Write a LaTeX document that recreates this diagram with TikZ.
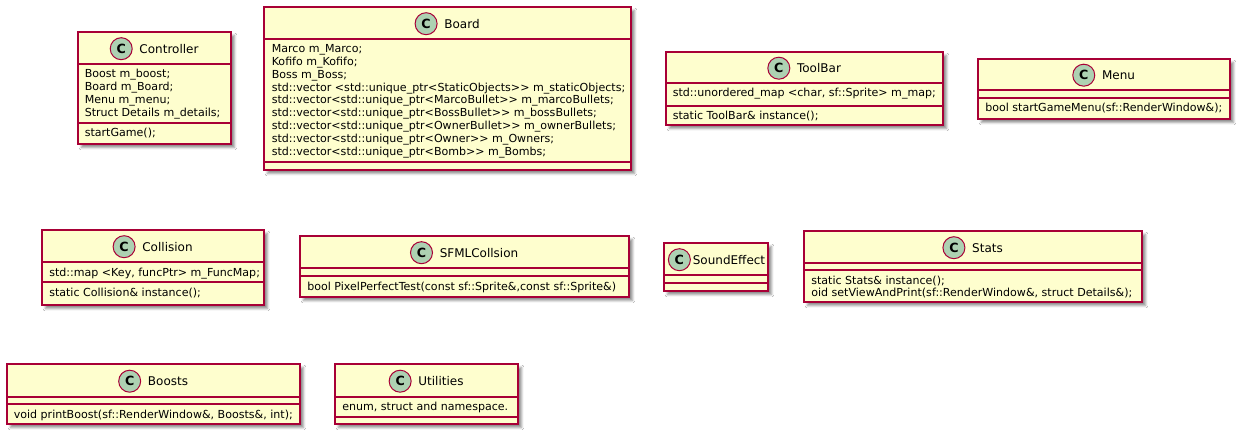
\documentclass[tikz,border=0pt]{standalone}
\usepackage{fontspec}
\setmainfont{DejaVu Sans}
\usetikzlibrary{shadows.blur}
\definecolor{umlfill}{HTML}{FEFECE}
\definecolor{umlred}{HTML}{A80036}
\definecolor{umlcirc}{HTML}{ADD1B2}
\tikzset{
  classbox/.style={draw=umlred, fill=umlfill, line width=1.125pt, anchor=north west,
    inner sep=0pt, outer sep=0pt,
    blur shadow={shadow xshift=2.6pt, shadow yshift=-2.6pt, shadow blur radius=1.8pt, shadow opacity=45}},
  divline/.style={draw=umlred, line width=1.125pt},
  classname/.style={font=\fontsize{9}{11}\selectfont, inner sep=0pt, text height=6.6pt, text depth=0pt, anchor=center},
  classcirc/.style={circle, draw=umlred, line width=0.75pt, fill=umlcirc, minimum size=16.5pt,
    inner sep=0pt, font=\fontsize{9.5}{11}\selectfont\bfseries},
  member/.style={font=\fontsize{8.3}{9.6}\selectfont, inner sep=0pt, anchor=base west},
}
\def\nameoff{14.5}
\def\circoff{13.5pt}
% #1 id, #2 title, #3 x1, #4 y1, #5 x2, #6 y2, #7 header line y, #8 divider y
\newcommand\umlclass[8]{%
  \node[classbox, minimum width={(#5-#3)*0.75pt}, minimum height={(#6-#4)*0.75pt}] (#1) at (#3,#4) {};
  \draw[divline] (#1.west |- 0,#7) -- (#1.east |- 0,#7);
  \draw[divline] (#1.west |- 0,#8) -- (#1.east |- 0,#8);
  \node[classname] (#1-name) at ({(#3+#5)/2+\nameoff},{(#4+#7)/2+0.7}) {#2};
  \node[classcirc] (#1-circ) at ([xshift=-\circoff]#1-name.west) {C};
}
% #1 prefix, #2 x, #3 first baseline, #4 list
\newcommand\members[4]{%
  \foreach \txt [count=\i from 0] in {#4} {\node[member] (#1\i) at (#2, {#3+12.8*\i}) {\txt};}%
}
\begin{document}
\begin{tikzpicture}[x=0.75pt,y=-0.75pt]
\useasboundingbox (0,0) rectangle (1248,442);
\fill[white] (0,0) rectangle (1248,442);

% Controller
\umlclass{ctrl}{Controller}{78}{32}{231}{144}{64}{123}
\members{ctrl-a}{84.5}{78}{{Boost m\_boost;},{Board m\_Board;},{Menu m\_menu;},{Struct Details m\_details;}}
\members{ctrl-m}{84.5}{137}{{startGame();}}

% Board
\umlclass{board}{Board}{264}{7}{631}{170}{39}{162}
\members{board-a}{271.5}{52.7}{{Marco m\_Marco;},{Kofifo m\_Kofifo;},{Boss m\_Boss;},
  {std::vector <std::unique\_ptr<StaticObjects>{}> m\_staticObjects;},
  {std::vector<std::unique\_ptr<MarcoBullet>{}> m\_marcoBullets;},
  {std::vector<std::unique\_ptr<BossBullet>{}> m\_bossBullets;},
  {std::vector<std::unique\_ptr<OwnerBullet>{}> m\_ownerBullets;},
  {std::vector<std::unique\_ptr<Owner>{}> m\_Owners;},
  {std::vector<std::unique\_ptr<Bomb>{}> m\_Bombs;}}

% ToolBar
\umlclass{toolbar}{ToolBar}{666}{52}{943}{125}{83}{106}
\members{toolbar-a}{672.5}{96.8}{{std::unordered\_map <char, sf::Sprite> m\_map;}}
\members{toolbar-m}{672.5}{119.8}{{static ToolBar\& instance();}}

% Menu
\umlclass{menu}{Menu}{978}{59}{1230}{119}{90}{98}
\members{menu-m}{985}{111.8}{{bool startGameMenu(sf::RenderWindow\&);}}

% Collision
\umlclass{collision}{Collision}{42}{230}{264}{305}{262}{282}
\members{collision-a}{49}{276.2}{{std::map <Key, funcPtr> m\_FuncMap;}}
\members{collision-m}{49}{296.2}{{static Collision\& instance();}}

% SFMLCollsion
\umlclass{sfml}{SFMLCollsion}{300}{236}{629}{297}{268}{276}
\members{sfml-m}{307}{290}{{bool PixelPerfectTest(const sf::Sprite\&,const sf::Sprite\&)}}

% SoundEffect (narrow box: tighter header)
\def\nameoff{13}\def\circoff{9.9pt}
\umlclass{sound}{SoundEffect}{664}{243}{768}{291}{275}{283}
\def\nameoff{14.5}\def\circoff{13.5pt}

% Stats
\umlclass{stats}{Stats}{804}{231}{1142}{302}{263}{270}
\members{stats-m}{811}{284}{{static Stats\& instance();},{oid setViewAndPrint(sf::RenderWindow\&, struct Details\&);}}

% Boosts
\umlclass{boosts}{Boosts}{7}{364}{300}{424}{397}{404}
\members{boosts-m}{13.5}{418}{{void printBoost(sf::RenderWindow\&, Boosts\&, int);}}

% Utilities
\umlclass{utilities}{Utilities}{335}{364}{518}{424}{397}{417}
\members{utilities-a}{342}{410.5}{{enum, struct and namespace.}}
\end{tikzpicture}
\end{document}
